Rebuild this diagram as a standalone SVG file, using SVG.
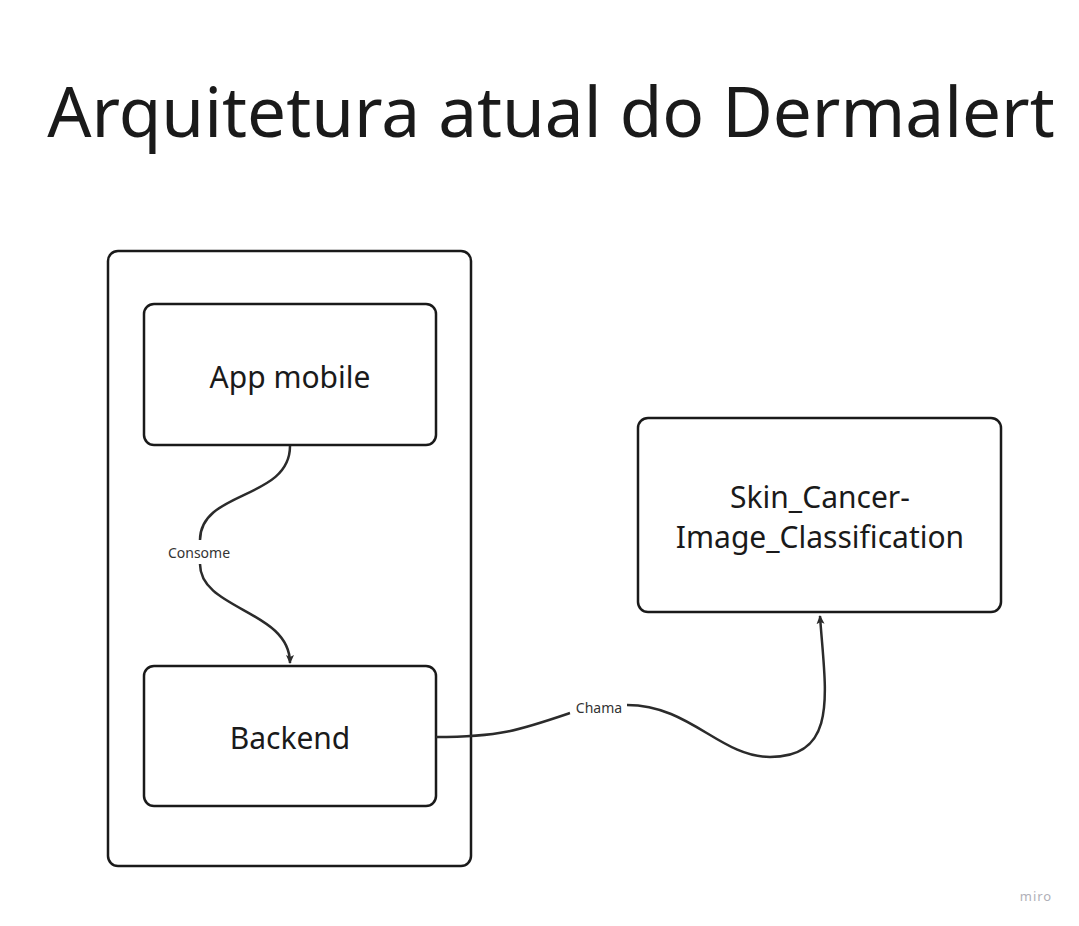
<svg xmlns="http://www.w3.org/2000/svg" width="1079" height="926" viewBox="0 0 1079 926">
<defs>
<style>
.box{fill:#fff;stroke:#1a1a1a;stroke-width:2.5}
.lbl{font-family:"Noto Sans","Open Sans",sans-serif;font-size:30px;fill:#1a1a1a;text-anchor:middle;dominant-baseline:central}
.edge{fill:none;stroke:#2b2b2b;stroke-width:2.5}
.elbl{font-family:"Noto Sans","Open Sans",sans-serif;font-size:14px;fill:#333;text-anchor:middle;dominant-baseline:central}
</style>
<marker id="arr" viewBox="0 0 10 10" refX="8" refY="5" markerWidth="10" markerHeight="10" markerUnits="userSpaceOnUse" orient="auto">
<path d="M0,1 L9,5 L0,9 L2,5 Z" fill="#2b2b2b"/>
</marker>
</defs>
<rect width="1079" height="926" fill="#fff"/>
<text x="551" y="110" font-family="'Noto Sans','Open Sans',sans-serif" font-size="69.3" fill="#1a1a1a" text-anchor="middle" dominant-baseline="central">Arquitetura atual do Dermalert</text>
<g id="container"><rect class="box" x="108" y="251" width="363" height="615" rx="10"/></g>
<g id="app-mobile"><rect class="box" x="144" y="304" width="292" height="141" rx="10"/><text class="lbl" x="290" y="376">App mobile</text></g>
<g id="backend"><rect class="box" x="144" y="666" width="292" height="140" rx="10"/><text class="lbl" x="290" y="737">Backend</text></g>
<g id="skin-cancer"><rect class="box" x="638" y="418" width="363" height="194" rx="10"/><text class="lbl" x="820" y="496">Skin_Cancer-</text><text class="lbl" x="820" y="536">Image_Classification</text></g>
<g id="connectors">
<path class="edge" d="M290,446 C290,500 200,490 200,540"/>
<path class="edge" d="M200,564 C200,610 290,610 290,663" marker-end="url(#arr)"/>
<text class="elbl" x="199" y="552">Consome</text>
<path class="edge" d="M436,737 C500,737 520,730 570,713"/>
<path class="edge" d="M627,705 C690,705 720,757 770,757 C840,757 825,690 820,616" marker-end="url(#arr)"/>
<text class="elbl" x="599" y="707">Chama</text>
</g>
<text x="1036" y="896" font-family="'Noto Sans',sans-serif" font-size="13" fill="#b0b0b8" text-anchor="middle" dominant-baseline="central" letter-spacing="1">miro</text>
</svg>
